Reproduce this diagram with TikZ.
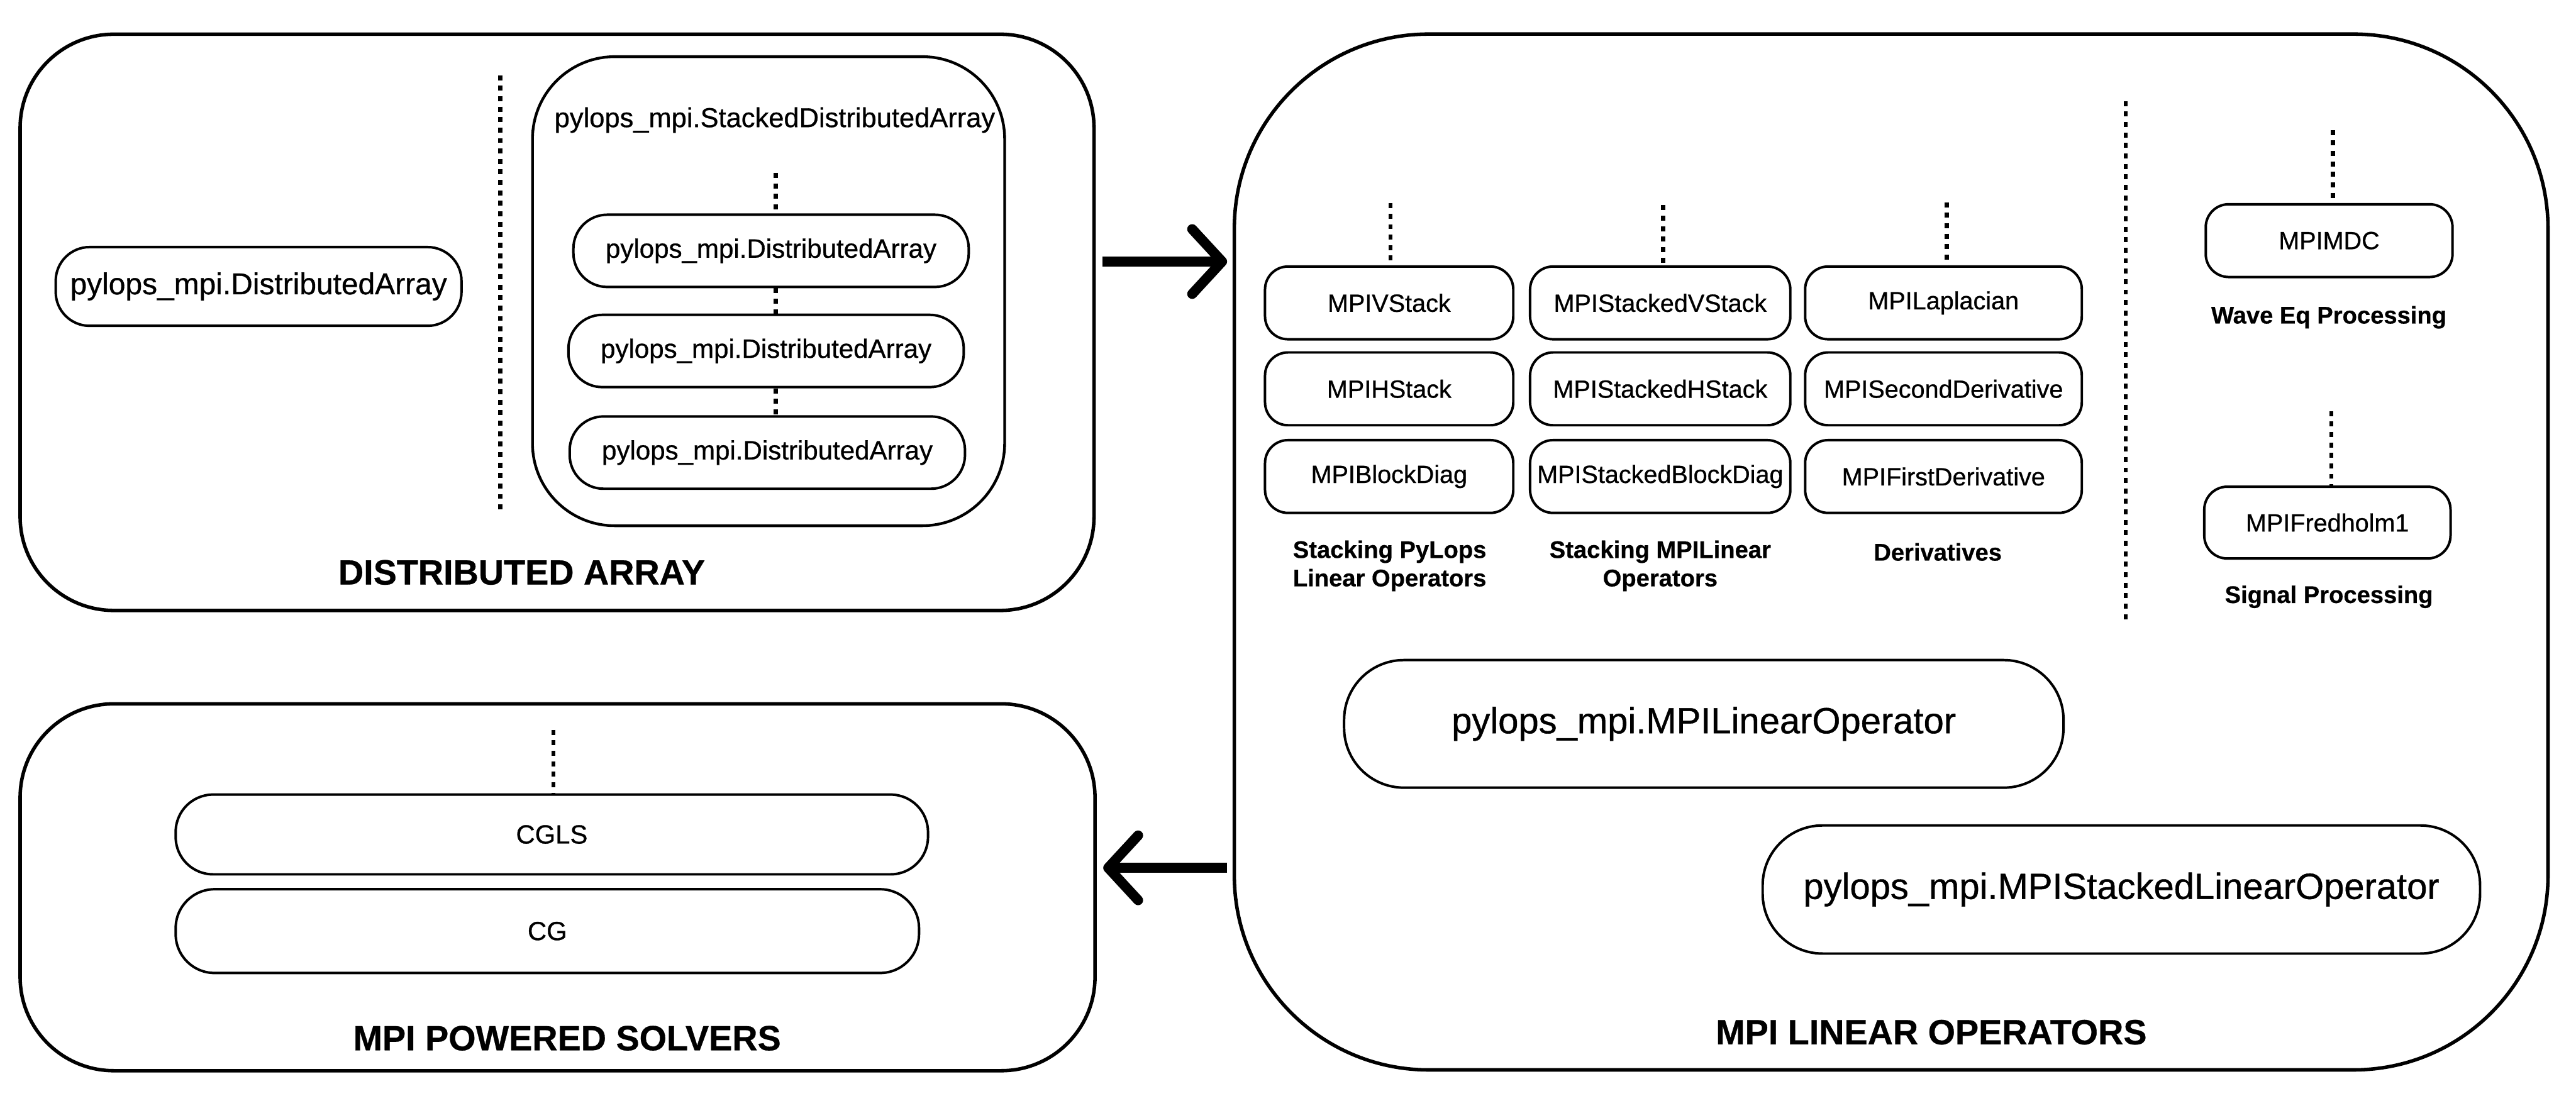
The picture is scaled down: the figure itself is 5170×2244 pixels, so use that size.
\documentclass[tikz,border=0pt]{standalone}
\usepackage{fontspec}
\setmainfont{Liberation Sans}[UprightFeatures={FakeBold=0.7},BoldFeatures={FakeBold=0.5}]
\usetikzlibrary{arrows.meta,calc}
\newcommand\fsz[1]{\fontsize{#1}{#1}\selectfont}
\begin{document}
\begin{tikzpicture}[x=0.01cm,y=-0.01cm,
  bigbox/.style={draw, line width=0.07cm, inner sep=0pt},
  pill/.style={draw, line width=0.05cm, inner sep=0pt, align=center},
  opnode/.style={pill, rounded corners=0.46cm, minimum height=1.46cm, font=\fsz{14.2pt}},
  danode/.style={pill, rounded corners=0.68cm, minimum width=7.93cm, minimum height=1.45cm, font=\fsz{15.1pt}},
  dotline/.style={line width=0.08cm, dash pattern=on 0.1cm off 0.11cm},
  bigarrow/.style={line width=0.2cm, -{Straight Barb[length=0.6cm, width=1.3cm, round]}},
  lbl/.style={font=\bfseries\fontsize{13.7pt}{16.2pt}\selectfont, align=center},
  ttl/.style={font=\bfseries\fsz{20pt}},
]
\useasboundingbox (0,0) rectangle (5170,2244);

% ---------------- DISTRIBUTED ARRAY ----------------
\node[bigbox, rounded corners=1.88cm, minimum width=21.54cm, minimum height=11.56cm] (da) at (1118,647) {};
\node[pill, rounded corners=0.68cm, minimum width=8.14cm, minimum height=1.58cm, font=\fsz{17.2pt}] (dal) at (519,575) {pylops\_mpi.DistributedArray};
\coordinate (dv1) at (1004,151);
\coordinate (dv2) at (1004,1030);
\draw[dotline] (dv1) -- (dv2);
\node[pill, line width=0.055cm, rounded corners=1.65cm, minimum width=9.47cm, minimum height=9.41cm] (sda) at (1542.5,584.5) {};
\node[font=\fsz{15.6pt}, inner sep=0pt] (sdat) at (1555,241) {pylops\_mpi.StackedDistributedArray};
\node[danode] (s1) at (1547.5,503.5) {pylops\_mpi.DistributedArray};
\node[danode] (s2) at (1537.5,704.5) {pylops\_mpi.DistributedArray};
\node[danode] (s3) at (1540,908.5) {pylops\_mpi.DistributedArray};
\coordinate (st) at (1557,347);
\draw[dotline] (st) -- (st |- s1.north);
\draw[dotline] (st |- s1.south) -- (st |- s2.north);
\draw[dotline] (st |- s2.south) -- (st |- s3.north);
\node[ttl] (dat) at (1047,1149) {DISTRIBUTED ARRAY};

% ---------------- MPI LINEAR OPERATORS ----------------
\node[bigbox, rounded corners=3.9cm, minimum width=26.35cm, minimum height=20.78cm] (lo) at (3795.5,1108) {};

\node[opnode, minimum width=4.98cm] (v1) at (2788,608) {MPIVStack};
\node[opnode, minimum width=4.98cm] (v2) at (2788,780.5) {MPIHStack};
\node[opnode, minimum width=4.98cm] (v3) at (2788,956.5) {MPIBlockDiag};
\node[opnode, minimum width=5.22cm] (w1) at (3332,608) {MPIStackedVStack};
\node[opnode, minimum width=5.22cm] (w2) at (3332,780.5) {MPIStackedHStack};
\node[opnode, minimum width=5.22cm] (w3) at (3332,956.5) {MPIStackedBlockDiag};
\node[opnode, minimum width=5.55cm] (d1) at (3900.5,608) {MPILaplacian};
\node[opnode, minimum width=5.55cm] (d2) at (3900.5,780.5) {MPISecondDerivative};
\node[opnode, minimum width=5.55cm] (d3) at (3900.5,956.5) {MPIFirstDerivative};

\coordinate (c1t) at (2791,408);
\coordinate (c2t) at (3338,412);
\coordinate (c3t) at (3907,406);
\draw[dotline] (c1t) -- (c1t |- v1.north);
\draw[dotline] (c2t) -- (c2t |- w1.north);
\draw[dotline] (c3t) -- (c3t |- d1.north);

\node[lbl] (l1) at (2789,1136) {Stacking PyLops\\Linear Operators};
\node[lbl] (l2) at (3332,1136) {Stacking MPILinear\\Operators};
\node[lbl] (l3) at (3889,1108) {Derivatives};

\coordinate (lv1) at (4266,203);
\coordinate (lv2) at (4266,1244);
\draw[dotline] (lv1) -- (lv2);

\node[opnode, minimum width=4.95cm] (mdc) at (4674.5,483) {MPIMDC};
\coordinate (mt) at (4682,261);
\draw[dotline] (mt) -- (mt |- mdc.north);
\node[lbl] (wl) at (4674,637) {Wave Eq Processing};
\node[opnode, minimum width=4.94cm, minimum height=1.44cm] (fr) at (4671,1049) {MPIFredholm1};
\coordinate (ft) at (4679,825);
\draw[dotline] (ft) -- (ft |- fr.north);
\node[lbl] (sl) at (4674,1198) {Signal Processing};

\node[pill, rounded corners=1.2cm, minimum width=14.43cm, minimum height=2.56cm, font=\fsz{20.8pt}] (lin) at (3419.5,1453) {pylops\_mpi.MPILinearOperator};
\node[pill, rounded corners=1.2cm, minimum width=14.39cm, minimum height=2.57cm, font=\fsz{20.8pt}] (slin) at (4257.5,1785.5) {pylops\_mpi.MPIStackedLinearOperator};
\node[ttl] (lot) at (3876,2072) {MPI LINEAR OPERATORS};

% ---------------- MPI POWERED SOLVERS ----------------
\node[bigbox, rounded corners=1.88cm, minimum width=21.56cm, minimum height=7.36cm] (sv) at (1119,1781) {};
\node[pill, rounded corners=0.75cm, minimum width=15.09cm, minimum height=1.60cm, font=\fsz{15pt}] (cgls) at (1107.5,1675) {CGLS};
\node[pill, rounded corners=0.78cm, minimum width=14.91cm, minimum height=1.68cm, font=\fsz{15pt}] (cg) at (1098.5,1869) {CG};
\coordinate (svt) at (1111,1465);
\draw[dotline] (svt) -- (svt |- cgls.north);
\node[ttl] (svtt) at (1138,2084) {MPI POWERED SOLVERS};

% ---------------- Arrows ----------------
\coordinate (ay1) at (0,525);
\coordinate (ay2) at (0,1742);
\draw[bigarrow] ($(da.east |- ay1)+(13,0)$) -- ($(lo.west |- ay1)+(-11,0)$);
\draw[bigarrow] ($(lo.west |- ay2)+(-11,0)$) -- ($(sv.east |- ay2)+(13,0)$);
\end{tikzpicture}
\end{document}
